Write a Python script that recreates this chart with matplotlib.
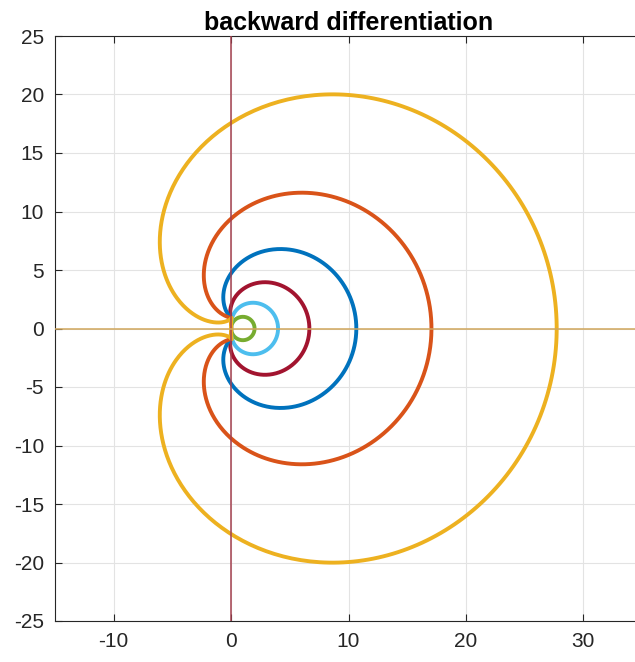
import numpy as np
import matplotlib
matplotlib.use("Agg")
import matplotlib.pyplot as plt

plt.rcParams['font.family'] = ['Liberation Sans', 'DejaVu Sans']
plt.rcParams['axes.unicode_minus'] = False

# BDF orders and the colour each boundary curve is drawn in
orders = [1, 2, 3, 4, 5, 6]
colors = ['#77ac30', '#4dbeee', '#a2142f', '#0072bd', '#d95319', '#edb120']
xlim = [-15, 35]
ylim = [-25, 25]
xticks = [-10, 0, 10, 20, 30]
yticks = [-25, -20, -15, -10, -5, 0, 5, 10, 15, 20, 25]

theta = np.linspace(0, 2*np.pi, 800)
w = 1 - np.exp(-1j*theta)

fig = plt.figure(figsize=(6.35, 6.62), dpi=100)
ax = fig.add_axes([55/635, 41/662, 587/635, 585/662])

for k, c in zip(orders, colors):
    z = sum(w**j / j for j in range(1, k+1))
    ax.plot(z.real, z.imag, color=c, lw=2.8, zorder=2)

ax.axvline(0, color='#a4404f', lw=1.1, zorder=3)
ax.axhline(0, color='#d0a65c', lw=1.1, zorder=3)

ax.set_xlim(xlim)
ax.set_ylim(ylim)
ax.set_xticks(xticks)
ax.set_yticks(yticks)
ax.grid(True, color='#e3e3e3', lw=0.8, zorder=0)
ax.set_axisbelow(True)
ax.tick_params(direction='in', top=True, right=True, labelsize=15, length=5,
               color='#262626', labelcolor='#262626', pad=8)
for s in ax.spines.values():
    s.set_color('#262626')
    s.set_linewidth(0.8)
ax.set_title('backward differentiation', fontsize=18, fontweight='bold', pad=4)

fig.savefig('out.png', dpi=100)
